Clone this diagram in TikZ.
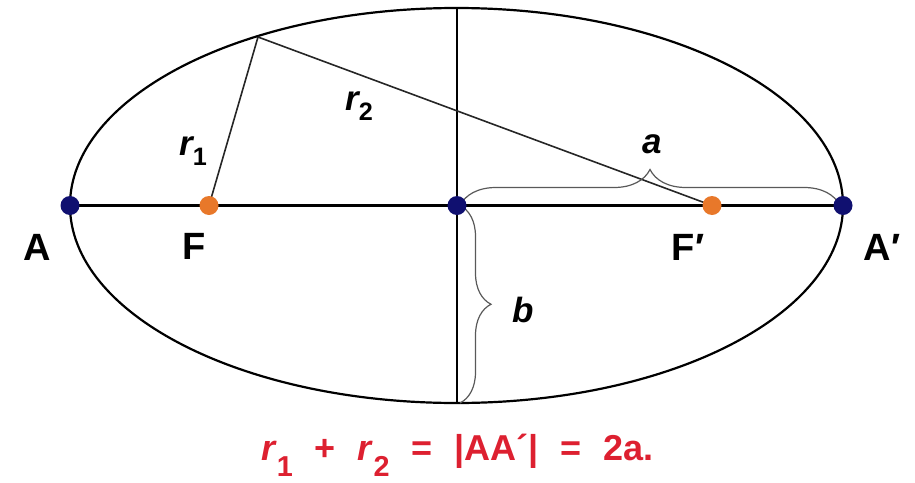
\documentclass[tikz,border=0pt]{standalone}
\usepackage{fontspec}
\setmainfont{Liberation Sans}
\usetikzlibrary{decorations.pathreplacing}
\definecolor{navy}{HTML}{101070}
\definecolor{orng}{HTML}{E8782A}
\definecolor{redtxt}{HTML}{DD2030}
\newcommand\mysub[1]{\raisebox{-0.55ex}{\scalebox{0.72}{\upshape #1}}}
\newcommand\eqsub[1]{\raisebox{-0.45em}{\scalebox{0.8}{\upshape #1}}}
\newcommand\eqsp{\hspace{22pt}}
\pgfdeclarelayer{bg}
\pgfsetlayers{bg,main}
\begin{document}
\begin{tikzpicture}[x=1pt,y=-1pt,
  vdot/.style={circle,fill=navy,inner sep=0pt,minimum size=19pt},
  fdot/.style={circle,fill=orng,inner sep=0pt,minimum size=19pt},
  lbl/.style={font=\fontsize{38}{40}\selectfont\bfseries,inner sep=0pt},
  ilbl/.style={font=\fontsize{35}{38}\selectfont\bfseries\itshape,inner sep=0pt},
  axisline/.style={line width=2.8pt,black},
  ray/.style={line width=1.6pt,black!85},
  brc/.style={decorate,line width=1.2pt,black!65}]
\useasboundingbox (0,0) rectangle (915,482);
% points
\node[vdot] (A)  at (70,205.5)  {};
\node[vdot] (Ap) at (843,205.5) {};
\node[vdot] (O)  at (457,205.5) {};
\node[fdot] (F)  at (209,205.5) {};
\node[fdot] (Fp) at (712,205.5) {};
\coordinate (P) at (258,37);
\coordinate (T) at (457,8);
\coordinate (B) at (457,403);
\begin{pgfonlayer}{bg}
  \draw[line width=2.2pt] (456.5,205.5) ellipse [x radius=386.5pt, y radius=197.5pt];
  \draw[axisline] (A.center) -- (Ap.center);
  \draw[axisline] (T) -- (B);
  \draw[ray] (P) -- (F.center);
  \draw[ray] (P) -- (Fp.center);
  \draw[brc,decoration={brace,amplitude=36pt}] ([xshift=3pt]O.center) -- ([xshift=-3pt]Ap.center);
  \draw[brc,decoration={brace,amplitude=31pt}] ([xshift=3pt]O.center) -- ([xshift=3pt]B);
\end{pgfonlayer}
% labels
\node[lbl,anchor=base] (lA)  at (37,260)  {A};
\node[lbl,anchor=base] (lF)  at (194,259) {F};
\node[lbl,anchor=base] (lFp) at (688,260) {F′};
\node[lbl,anchor=base] (lAp) at (882,260) {A′};
\node[ilbl,anchor=base west] (lr1) at (179,155) {r\mysub{1}};
\node[ilbl,anchor=base west] (lr2) at (345,110) {r\mysub{2}};
\node[ilbl,anchor=base] (la) at (652,153) {a};
\node[ilbl,anchor=base] (lb) at (523,322) {b};
\node[font=\fontsize{36}{38}\selectfont\bfseries,text=redtxt,anchor=base west,inner sep=0pt] (eq) at (261,460)
  {\textit{r}\eqsub{1}\eqsp+\eqsp\textit{r}\eqsub{2}\eqsp=\eqsp|AA´|\eqsp=\eqsp2a.};
\end{tikzpicture}
\end{document}
